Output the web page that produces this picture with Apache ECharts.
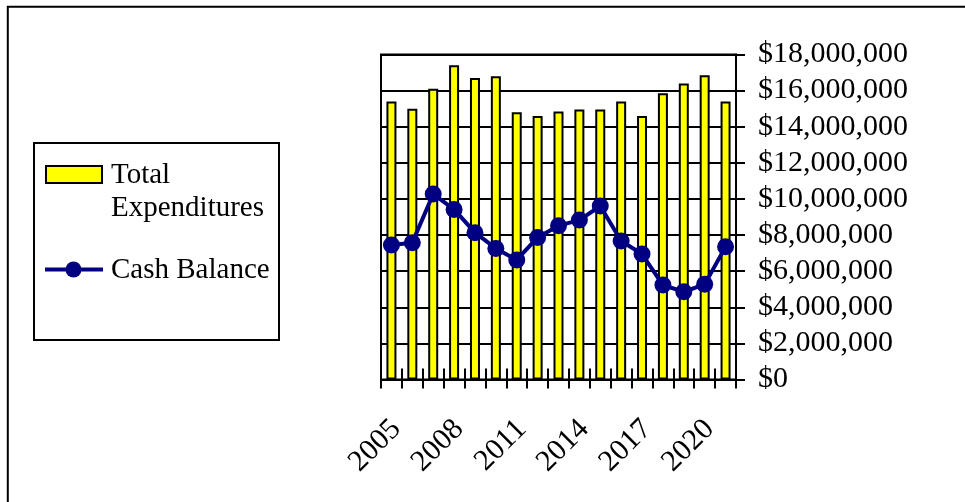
<!DOCTYPE html>
<html>
<head>
<meta charset="utf-8">
<script src="https://cdn.jsdelivr.net/npm/echarts@6/dist/echarts.min.js"></script>
<style>
  html, body { margin: 0; padding: 0; background: #fff; }
  #chart { width: 965px; height: 502px; }
</style>
</head>
<body>
<div id="chart"></div>
<script>
// Fiscal years shown on the category axis
const years = ['2005', '2006', '2007', '2008', '2009', '2010', '2011', '2012', '2013',
               '2014', '2015', '2016', '2017', '2018', '2019', '2020', '2021'];

// Total expenditures per year (dollars)
const totalExpenditures = [15400000, 15000000, 16100000, 17400000, 16700000, 16800000,
                           14800000, 14600000, 14850000, 14950000, 14950000, 15400000,
                           14600000, 15850000, 16400000, 16850000, 15400000];

// Year-end cash balance (dollars)
const cashBalance = [7450000, 7580000, 10270000, 9420000, 8130000, 7260000, 6620000,
                     7870000, 8520000, 8830000, 9610000, 7670000, 6950000, 5230000,
                     4860000, 5270000, 7350000];

// Value axis range and step
const valueMax = 18000000;
const valueStep = 2000000;

// Legend entries
const legendBarLines = ['Total', 'Expenditures'];
const legendLineLabel = 'Cash Balance';

const FONT = '"Liberation Serif", "Times New Roman", serif';
const YELLOW = '#FFFF00';
const NAVY = '#000080';

const chart = echarts.init(document.getElementById('chart'), null, { renderer: 'canvas' });

const fmtDollars = v => '$' + Number(v).toLocaleString('en-US');

chart.setOption({
  animation: false,
  backgroundColor: '#fff',
  grid: {
    left: 381, right: 229, top: 54.5, bottom: 122.5,
    show: true, borderColor: '#000', borderWidth: 2, backgroundColor: 'transparent'
  },
  xAxis: [
    {
      type: 'category',
      data: years,
      position: 'bottom',
      boundaryGap: true,
      axisLine: { show: true, lineStyle: { color: '#000', width: 2 } },
      axisTick: { show: true, interval: 0, length: 9, lineStyle: { color: '#000', width: 2 } },
      axisLabel: {
        interval: 2, rotate: 45, margin: 50, padding: [0, -7, 0, 0],
        color: '#000', fontFamily: FONT, fontSize: 30
      },
      splitLine: { show: false }
    },
    {
      // inward half of the crossing tick marks
      type: 'category',
      data: years,
      position: 'bottom',
      boundaryGap: true,
      axisLine: { show: false },
      axisTick: { show: true, inside: true, interval: 0, length: 11, lineStyle: { color: '#000', width: 2 } },
      axisLabel: { show: false },
      splitLine: { show: false }
    }
  ],
  yAxis: {
    type: 'value',
    position: 'right',
    min: 0, max: valueMax, interval: valueStep,
    axisLine: { show: true, lineStyle: { color: '#000', width: 2 } },
    axisTick: { show: true, length: 9, lineStyle: { color: '#000', width: 2 } },
    axisLabel: {
      margin: 22, color: '#000', fontFamily: FONT, fontSize: 30,
      formatter: fmtDollars
    },
    splitLine: { show: true, lineStyle: { color: '#000', width: 2 } }
  },
  series: [
    {
      name: 'Total Expenditures',
      type: 'bar',
      data: totalExpenditures,
      barWidth: 10,
      itemStyle: { color: YELLOW, borderColor: '#000', borderWidth: 2 },
      z: 3
    },
    {
      name: legendLineLabel,
      type: 'line',
      data: cashBalance,
      symbol: 'circle',
      symbolSize: 17,
      showSymbol: true,
      showAllSymbol: true,
      lineStyle: { color: NAVY, width: 4 },
      itemStyle: { color: NAVY },
      z: 5
    }
  ],
  graphic: [
    // outer frame
    {
      type: 'rect', silent: true,
      shape: { x: 7.8, y: 6.8, width: 1200, height: 800 },
      style: { fill: 'none', stroke: '#000', lineWidth: 2 }
    },
    // legend box
    {
      type: 'rect', silent: true,
      shape: { x: 34, y: 143, width: 245, height: 197 },
      style: { fill: '#fff', stroke: '#000', lineWidth: 2 }
    },
    {
      type: 'rect', silent: true,
      shape: { x: 46, y: 166, width: 56, height: 17 },
      style: { fill: YELLOW, stroke: '#000', lineWidth: 2 }
    },
    {
      type: 'text', silent: true, x: 111, y: 175.5,
      style: { text: legendBarLines[0], fill: '#000', font: '29px ' + FONT, verticalAlign: 'middle' }
    },
    {
      type: 'text', silent: true, x: 111, y: 208.5,
      style: { text: legendBarLines[1], fill: '#000', font: '29px ' + FONT, verticalAlign: 'middle' }
    },
    {
      type: 'line', silent: true,
      shape: { x1: 45, y1: 269.5, x2: 103, y2: 269.5 },
      style: { stroke: NAVY, lineWidth: 4 }
    },
    {
      type: 'circle', silent: true,
      shape: { cx: 73.5, cy: 269.5, r: 8 },
      style: { fill: NAVY }
    },
    {
      type: 'text', silent: true, x: 111, y: 270.5,
      style: { text: legendLineLabel, fill: '#000', font: '29px ' + FONT, verticalAlign: 'middle' }
    }
  ]
});
</script>
</body>
</html>
